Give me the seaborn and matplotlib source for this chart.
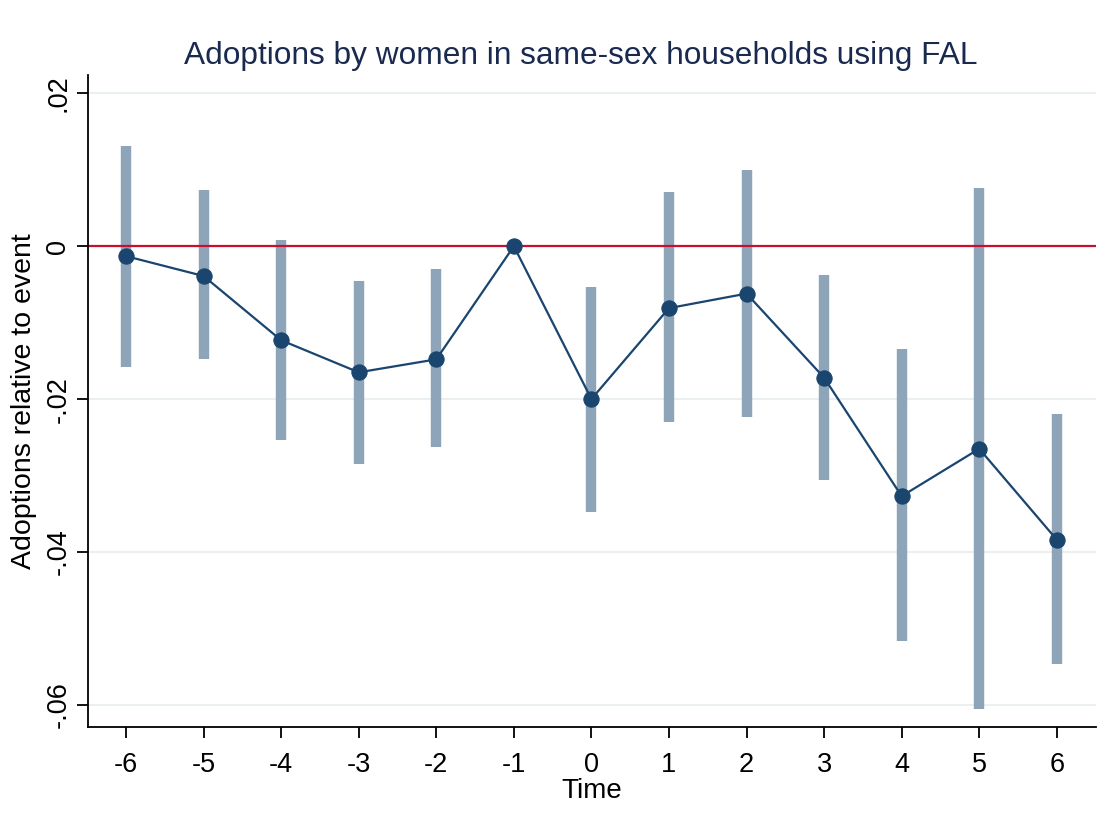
import pandas as pd
import seaborn as sns
import matplotlib.pyplot as plt

# event-study estimates
periods = [-6, -5, -4, -3, -2, -1, 0, 1, 2, 3, 4, 5, 6]
coef = [-0.0013, -0.0039, -0.0123, -0.0165, -0.0148, 0.0, -0.0200,
        -0.0081, -0.0062, -0.0172, -0.0327, -0.0265, -0.0384]
ci_low = [-0.0158, -0.0148, -0.0253, -0.0285, -0.0263, 0.0, -0.0348,
          -0.0230, -0.0223, -0.0306, -0.0517, -0.0606, -0.0547]
ci_high = [0.0131, 0.0073, 0.0008, -0.0046, -0.0030, 0.0, -0.0054,
           0.0071, 0.0100, -0.0037, -0.0135, 0.0076, -0.0219]
y_ticks = [0.02, 0.0, -0.02, -0.04, -0.06]
y_tick_labels = [".02", "0", "-.02", "-.04", "-.06"]

df = pd.DataFrame({"time": periods, "coef": coef, "lo": ci_low, "hi": ci_high})

sns.set_style("white")
plt.rcParams['font.family'] = ['Liberation Sans', 'DejaVu Sans']
plt.rcParams['text.color'] = 'black'
plt.rcParams['axes.labelcolor'] = 'black'
plt.rcParams['xtick.color'] = 'black'
plt.rcParams['ytick.color'] = 'black'

fig = plt.figure(figsize=(11.1, 8.39), dpi=100)
ax = fig.add_axes([0.0793, 0.1335, 0.9077, 0.7771])

# light grid
for yv in y_ticks:
    ax.axhline(yv, color="#eaeff2", lw=1.5, zorder=0)

# confidence intervals as thick bars
ci = df[df["time"] != -1]
ax.vlines(ci["time"], ci["lo"], ci["hi"], color="#8ea4b8", lw=7.5, zorder=1)

# reference line at zero
ax.axhline(0, color="#c8102e", lw=1.6, zorder=2)

sns.lineplot(data=df, x="time", y="coef", ax=ax, color="#1a456e", lw=1.6,
             marker="o", markersize=11, markeredgecolor="#1a456e", zorder=3)

ax.set_xlim(-6.49, 6.5)
ax.set_ylim(-0.0629, 0.0224)
ax.set_xticks(periods)
ax.set_xticklabels([str(p) for p in periods], fontsize=19.5)
ax.set_yticks(y_ticks)
ax.set_yticklabels(y_tick_labels, fontsize=19.5, rotation=90, va="center")
ax.tick_params(axis="both", direction="out", length=8, width=1.3, color="black",
               left=True, bottom=True)
ax.tick_params(axis="x", pad=10)
ax.tick_params(axis="y", pad=4)

for side in ["top", "right"]:
    ax.spines[side].set_visible(False)
for side in ["left", "bottom"]:
    ax.spines[side].set_color("black")
    ax.spines[side].set_linewidth(1.3)

ax.set_xlabel("Time", fontsize=20, labelpad=0)
ax.set_ylabel("Adoptions relative to event", fontsize=20.5, labelpad=6)
ax.set_title("Adoptions by women in same-sex households using FAL",
             fontsize=22.8, color="#1a2a4f", pad=8, x=0.489)

fig.savefig("out.png", dpi=100)
